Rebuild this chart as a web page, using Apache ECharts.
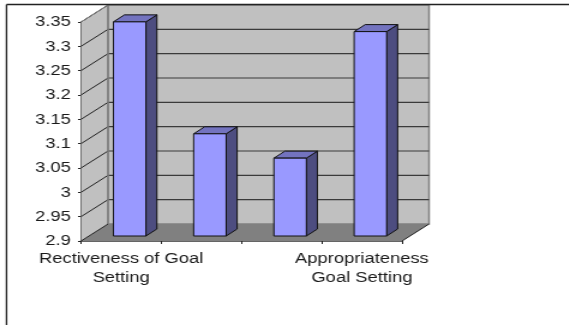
<!DOCTYPE html>
<html><head><meta charset="utf-8">
<style>html,body{margin:0;padding:0;background:#fff;overflow:hidden}
#c{width:474.17px;height:325px;transform:scaleX(1.2);transform-origin:0 0}</style>
<script src="https://cdn.jsdelivr.net/npm/echarts@6/dist/echarts.min.js"></script>
</head><body><div id="c"></div>
<script>
const categories = ["Rectiveness of Goal\nSetting", "", "", "Appropriateness\nGoal Setting"];
const values = [3.34, 3.11, 3.06, 3.32];
const yMin = 2.9, yMax = 3.35, yStep = 0.05;

const SX = 1.2;            // horizontal stretch of the whole picture
const DX = 27 / SX, DY = 17;          // depth of the 3-D box
const BDX = 11 / SX, BDY = 7;         // depth of a bar
const OFFX = 8.5 / SX, OFFY = 5;      // bar position inside the box
const tickVals = [];
for (let i = 0; i <= Math.round((yMax - yMin) / yStep); i++) tickVals.push(+(yMin + i * yStep).toFixed(2));

function poly(points, fill, stroke, lw) {
  return {type: 'polygon', shape: {points}, style: {fill, stroke: stroke || null, lineWidth: lw || 0}};
}
function seg(a, b, stroke, lw) {
  return {type: 'line', shape: {x1: a[0], y1: a[1], x2: b[0], y2: b[1]}, style: {stroke, lineWidth: lw, fill: null}};
}

function renderBox(params, api) {
  const c = params.coordSys;
  const L = c.x, R = c.x + c.width, B = c.y + c.height;
  const kids = [
    poly([[L, c.y], [L + DX, c.y - DY], [L + DX, B - DY], [L, B]], '#C0C0C0'),
    poly([[L + DX, c.y - DY], [R + DX, c.y - DY], [R + DX, B - DY], [L + DX, B - DY]], '#C0C0C0', '#808080', 1.5),
    poly([[L, B], [L + DX, B - DY], [R + DX, B - DY], [R, B]], '#808080')
  ];
  tickVals.forEach(v => {
    const y = api.coord([0, v])[1];
    if (v > yMin) {
      kids.push(seg([L, y], [L + DX, y - DY], '#222', 1));
      if (v < yMax) kids.push(seg([L + DX, y - DY], [R + DX, y - DY], '#3a3a3a', 1.2));
    }
  });
  kids.push(seg([L, c.y], [L + DX, c.y - DY], '#808080', 1));
  kids.push(seg([L + DX, c.y - DY], [L + DX, B - DY], '#808080', 1.5));
  kids.push(seg([L, B], [L + DX, B - DY], '#222', 1));
  kids.push(seg([R, B], [R + DX, B - DY], '#222', 1));
  return {type: 'group', children: kids};
}

function renderBar(params, api) {
  const i = api.value(0), v = api.value(1);
  const w = api.size([1, 0])[0] * 0.405;
  const cx = api.coord([i, v])[0] + OFFX;
  const top = api.coord([i, v])[1] - OFFY;
  const bot = api.coord([i, yMin])[1] - OFFY;
  const l = cx - w / 2, r = cx + w / 2;
  const st = '#111';
  return {type: 'group', children: [
    poly([[r, top], [r + BDX, top - BDY], [r + BDX, bot - BDY], [r, bot]], '#4D4D80', st, 1),
    poly([[l, top], [l + BDX, top - BDY], [r + BDX, top - BDY], [r, top]], '#7373BF', st, 1),
    poly([[l, top], [r, top], [r, bot], [l, bot]], '#9999FF', st, 1)
  ]};
}

const font = {color: '#1a1a1a', fontFamily: 'Liberation Sans, Arial, sans-serif', fontSize: 15.3};
const chart = echarts.init(document.getElementById('c'), null, {renderer: 'canvas'});
chart.setOption({
  animation: false,
  backgroundColor: '#fff',
  grid: {left: 81 / SX, width: 321 / SX, top: 22, height: 219},
  xAxis: {
    type: 'category', data: categories,
    axisLine: {show: true, lineStyle: {color: '#333', width: 1.5}},
    axisTick: {show: true, length: 3, alignWithLabel: false, lineStyle: {color: '#222'}},
    axisLabel: Object.assign({interval: 0, margin: 8, lineHeight: 19, hideOverlap: false}, font),
    splitLine: {show: false}
  },
  yAxis: {
    type: 'value', min: yMin, max: yMax, interval: yStep,
    axisLine: {show: true, lineStyle: {color: '#222'}},
    axisTick: {show: true, length: 3 / SX, lineStyle: {color: '#222'}},
    axisLabel: Object.assign({margin: 8.5, showMinLabel: true, showMaxLabel: true}, font),
    splitLine: {show: false}
  },
  graphic: [
    {type: 'line', z: 10, shape: {x1: 6.5 / SX, y1: 4.5, x2: 569 / SX, y2: 4.5}, style: {stroke: '#222', lineWidth: 1.5}},
    {type: 'line', z: 10, shape: {x1: 6.5 / SX, y1: 4.5, x2: 6.5 / SX, y2: 325}, style: {stroke: '#222', lineWidth: 1.3}}
  ],
  series: [
    {type: 'custom', z: 1, clip: false, silent: true, renderItem: renderBox, data: [[0, yMin]], encode: {x: 0, y: 1}},
    {type: 'custom', z: 2, clip: false, silent: true, renderItem: renderBar,
     data: values.map((v, i) => [i, v]), encode: {x: 0, y: 1}}
  ]
});
</script></body></html>
